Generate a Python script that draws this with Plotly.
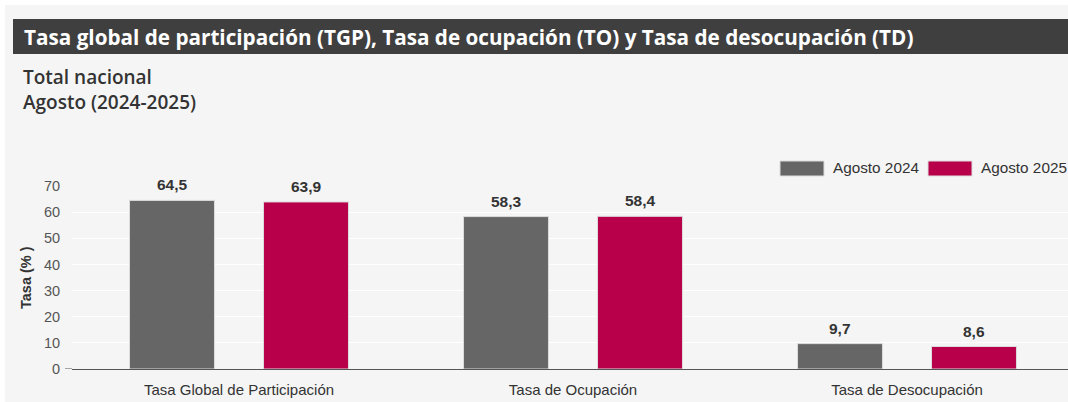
import plotly.graph_objects as go

categories = ["Tasa Global de Participación<br>(TGP)", "Tasa de Ocupación<br>(TO)", "Tasa de Desocupación<br>(TD)"]
series_names = ["Agosto 2024", "Agosto 2025"]
values_2024 = [64.5, 58.3, 9.7]
values_2025 = [63.9, 58.4, 8.6]
colors = ["#666666", "#b8004a"]

title_text = "Tasa global de participación (TGP), Tasa de ocupación (TO) y Tasa de desocupación (TD)"
subtitle_lines = ["Total nacional", "Agosto (2024-2025)"]
y_title = "Tasa (% )"

W, H = 1068, 402
ML, MR, MT, MB = 72, 0, 186, 33
PW = W - ML - MR
PH = H - MT - MB


def px_x(px):
    return (px - ML) / PW


def px_y(py):
    return (H - MB - py) / PH


fig = go.Figure()
for name, vals, col in zip(series_names, [values_2024, values_2025], colors):
    fig.add_trace(go.Bar(
        x=categories, y=vals, name=name,
        marker=dict(color=col, line=dict(color="#dcdcdc", width=1)),
        hoverinfo="skip", showlegend=False,
    ))

annotations = []
shapes = []

# value labels
for i, vals in enumerate([values_2024, values_2025]):
    shift = -67 if i == 0 else 67
    for c, v in zip(categories, vals):
        annotations.append(dict(
            x=c, y=v, xref="x", yref="y", text="<b>" + f"{v:.1f}".replace(".", ",") + "</b>",
            showarrow=False, xshift=shift, yanchor="bottom", yshift=5,
            font=dict(family="Liberation Sans, Arial", size=15.5, color="#333333"),
        ))

# background
shapes.append(dict(type="rect", xref="paper", yref="paper", x0=px_x(5), x1=1.0,
                   y0=px_y(H + 5), y1=px_y(5), fillcolor="#f5f5f5", line=dict(width=0), layer="below"))
# title bar
shapes.append(dict(type="rect", xref="paper", yref="paper", x0=px_x(13), x1=1.0,
                   y0=px_y(54), y1=px_y(19), fillcolor="#3f3f3f", line=dict(width=0), layer="below"))
annotations.append(dict(x=px_x(22), y=px_y(37), xref="paper", yref="paper", xanchor="left", yanchor="middle",
                        text="<b>" + title_text + "</b>", showarrow=False,
                        font=dict(family="Open Sans", size=20.7, color="#ffffff")))
annotations.append(dict(x=px_x(21), y=px_y(89.5), xref="paper", yref="paper", xanchor="left", yanchor="middle",
                        text="<br>".join(subtitle_lines), showarrow=False, align="left",
                        font=dict(family="Open Sans", size=19, color="#333333", weight=600)))

# y axis title
annotations.append(dict(x=px_x(26), y=px_y(278), xref="paper", yref="paper", xanchor="center", yanchor="middle",
                        text="<b>" + y_title + "</b>", textangle=-90, showarrow=False,
                        font=dict(family="Liberation Sans, Arial", size=14.5, color="#333333")))

# zero tick
shapes.append(dict(type="line", xref="paper", yref="y", x0=px_x(65), x1=0, y0=0, y1=0,
                   line=dict(color="#555555", width=1)))

# custom legend
leg_y0, leg_y1, leg_yc = px_y(176), px_y(161), px_y(168)
for name, col, sx0, sx1, tx in [(series_names[0], colors[0], 780, 824, 831),
                               (series_names[1], colors[1], 928, 972, 979)]:
    shapes.append(dict(type="rect", xref="paper", yref="paper", x0=px_x(sx0), x1=px_x(sx1),
                       y0=leg_y0, y1=leg_y1, fillcolor=col, line=dict(color="#dcdcdc", width=1)))
    annotations.append(dict(x=px_x(tx), y=leg_yc, xref="paper", yref="paper", xanchor="left", yanchor="middle",
                            text=name, showarrow=False,
                            font=dict(family="Liberation Sans, Arial", size=15.3, color="#333333")))

fig.update_layout(
    width=W, height=H,
    margin=dict(l=ML, r=MR, t=MT, b=MB, pad=0),
    paper_bgcolor="#ffffff", plot_bgcolor="rgba(0,0,0,0)",
    barmode="group", bargap=0.1976, bargroupgap=0.366,
    shapes=shapes, annotations=annotations,
    showlegend=False,
    font=dict(family="Liberation Sans, Arial", size=13, color="#333333"),
)
fig.update_xaxes(
    range=[-0.5, -0.5 + PW / 334.0], showgrid=False, showline=True, linecolor="#555555", linewidth=1,
    ticks="outside", ticklen=7, tickcolor="rgba(0,0,0,0)", automargin=False,
    tickfont=dict(family="Liberation Sans, Arial", size=15, color="#333333"), fixedrange=True,
)
fig.update_yaxes(
    range=[0, 70], dtick=10, showgrid=True, gridcolor="#ffffff", gridwidth=1, zeroline=False,
    showline=False, ticks="outside", ticklen=8, tickcolor="rgba(0,0,0,0)", automargin=False,
    tickfont=dict(family="Liberation Sans, Arial", size=14.5, color="#555555"), fixedrange=True,
)

fig.write_html("out.html", config={"displayModeBar": False},
               post_script="document.body.style.margin='0';")
